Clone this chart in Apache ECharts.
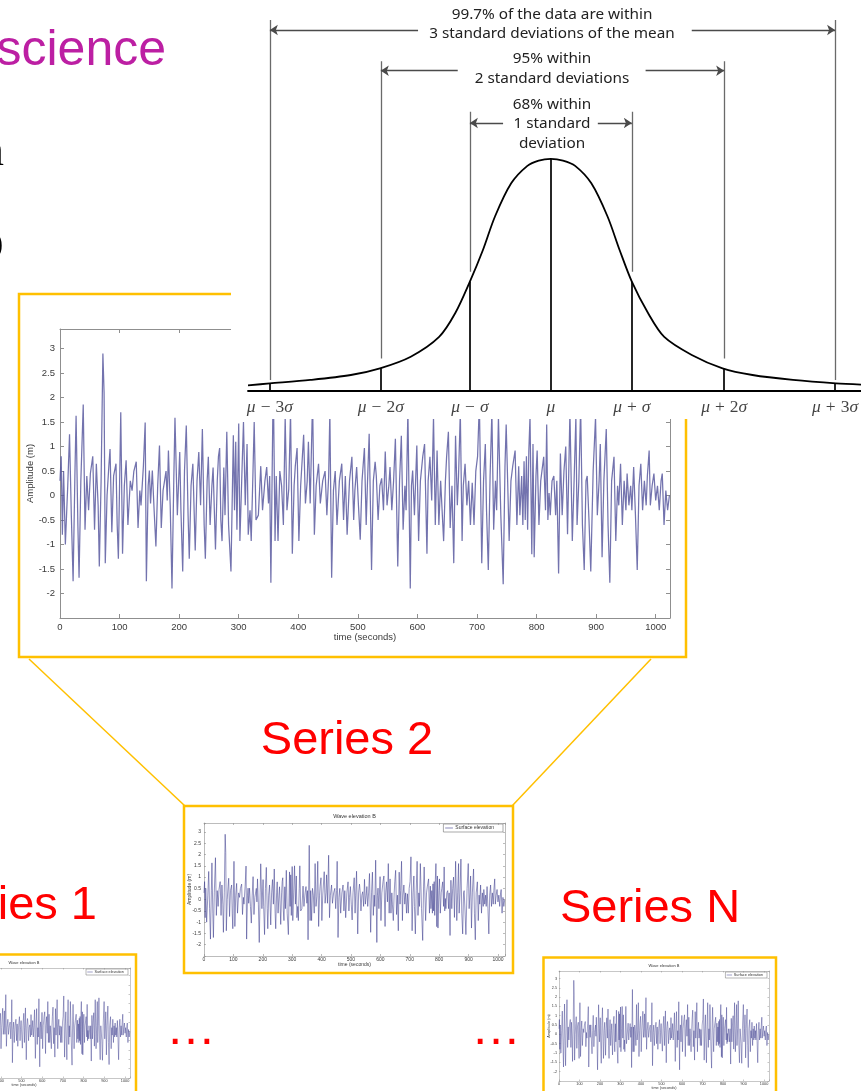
<!DOCTYPE html>
<html><head><meta charset="utf-8">
<script src="https://cdn.jsdelivr.net/npm/echarts@6/dist/echarts.min.js"></script>
<style>html,body{margin:0;padding:0;background:#fff}#c{width:861px;height:1091px}</style>
</head><body><div id="c"></div>
<script>
// ================= DATA =================
// Wave elevation time series (seconds, metres)
const waveTime = [
0,2,4,6,9,13,16,19,22,25,
27,30,32,35,39,42,45,48,51,55,
58,61,64,66,69,72,74,76,79,82,
84,87,90,94,96,98,102,105,108,111,
114,118,121,124,128,131,134,136,140,143,
145,148,150,152,155,158,161,164,167,170,
173,175,178,180,182,185,188,191,193,197,
201,203,206,209,212,215,217,220,223,227,
230,233,236,239,242,244,247,249,252,255,
257,261,264,266,268,270,272,275,277,280,
283,287,291,293,295,297,300,302,305,308,
311,314,316,319,321,324,326,329,333,337,
340,344,347,350,352,354,358,361,363,366,
369,372,375,378,381,384,387,390,393,395,
398,401,404,409,412,415,417,420,424,427,
430,434,437,441,445,448,451,453,456,459,
462,465,469,473,476,479,482,486,490,493,
495,498,501,504,507,511,514,516,519,523,
526,529,531,534,537,540,543,546,549,552,
554,557,560,563,567,570,573,576,579,581,
584,588,590,592,595,599,602,605,609,612,
616,618,621,624,627,630,633,636,639,641,
644,647,649,652,655,658,661,664,667,669,
672,675,677,680,683,686,689,692,695,698,
701,704,708,711,714,716,719,722,725,728,
731,733,736,740,744,747,749,751,754,757,
760,764,767,770,772,775,777,779,781,783,
785,787,789,792,794,796,799,801,804,807,
809,812,815,817,819,821,823,826,829,832,
834,837,840,843,846,849,852,856,860,863,
866,868,871,874,877,880,883,885,888,891,
895,899,902,905,907,910,913,917,920,923,
926,930,933,936,938,941,944,947,950,952,
955,958,960,963,966,969,972,975,978,981,
984,986,989,991,994,997,1000,1003,1006,1009,
1011,1014,1017,1020,1023];
const waveAmp = [
0.3,0.8,-0.8,0.5,-1.0,0.2,1.25,-0.4,-1.75,0.4,
1.63,-0.6,-1.68,0.3,1.86,-0.7,0.4,-0.3,0.45,0.8,
-0.7,0.65,-0.2,-1.45,0.3,2.9,2.1,-1.38,0.0,0.6,
0.95,-0.75,0.4,0.65,-0.6,-1.29,1.7,-1.19,0.2,0.72,
-0.6,0.3,0.1,0.5,0.69,-0.66,0.1,-0.2,0.6,1.49,
-1.75,0.2,0.51,-0.16,0.51,-0.3,-1.04,0.2,1.02,-0.66,
0.1,0.26,0.5,-0.1,0.92,-0.2,-1.9,0.3,1.59,-0.4,
0.89,-0.3,-1.55,0.5,1.43,-0.4,-1.29,0.2,0.65,-1.12,
0.3,0.89,-0.2,1.36,-0.6,-1.29,0.3,0.79,-0.6,0.2,
0.57,-1.1,0.3,0.8,0.97,-0.5,-0.93,0.57,-0.4,1.3,
-0.6,-1.55,1.23,-0.3,1.1,-0.7,1.47,-0.93,0.3,1.5,
-0.2,1.05,-0.8,-0.3,-0.93,0.5,1.5,-0.5,-0.4,0.6,
-0.3,0.3,0.58,-0.16,0.4,-1.78,2.41,-0.93,0.4,-0.93,
0.5,0.2,-0.6,1.6,-0.3,0.13,1.7,-1.19,0.2,0.6,
0.97,-0.93,0.2,1.24,-0.16,0.3,1.1,-0.16,1.97,-0.8,
0.2,0.65,-0.16,0.3,0.5,-0.4,0.4,1.7,-1.68,0.1,
0.5,-0.6,0.3,0.65,-0.5,0.4,-0.8,0.3,0.79,-0.5,
0.1,0.58,-0.2,-0.9,0.3,0.97,-0.6,0.2,1.26,-1.52,
0.3,0.69,0.4,-0.5,0.2,0.35,-0.3,0.9,-0.2,0.2,
0.58,-0.3,0.3,1.16,-1.45,0.3,1.22,-0.7,0.2,-0.3,
1.75,-1.9,0.2,0.51,-0.4,1.02,-0.93,0.3,0.8,1.05,
-1.19,0.3,0.79,-0.1,1.6,-0.6,0.92,-0.6,0.3,-0.2,
-0.93,0.3,0.79,1.3,-0.66,0.2,-1.38,1.22,-0.2,0.4,
1.7,-0.93,0.2,0.65,-0.2,0.3,-0.6,0.26,-0.6,0.5,
0.8,1.9,-1.38,0.3,1.05,-0.3,-1.52,0.4,1.7,-0.7,
0.3,-0.3,1.6,-0.4,-1.81,0.6,1.45,0.51,-0.93,0.3,
0.6,0.92,-0.6,0.6,-0.4,0.4,-0.6,0.7,-0.5,0.8,
-0.7,0.9,1.6,-1.2,1.05,-1.26,0.4,0.92,-0.6,0.3,
0.5,0.79,-0.3,1.45,-0.5,0.05,-0.4,0.3,0.4,-0.4,
0.3,-1.59,0.86,-0.4,0.5,1.0,-0.79,1.7,-0.93,0.3,
1.6,-0.6,0.3,1.8,-0.6,-1.52,0.3,0.4,-0.5,-1.55,
0.5,1.6,-0.4,0.3,1.05,-1.26,0.3,1.36,-0.6,-1.78,
0.3,0.79,-0.93,0.2,-0.2,0.65,-0.6,0.3,-0.3,0.45,
-0.2,0.2,-0.3,0.58,-0.4,-1.52,0.2,0.65,-0.3,0.3,
-0.2,0.4,0.92,-0.2,0.2,0.45,-0.1,0.2,-0.3,0.3,
0.45,-0.6,0.1,-0.3,0.0];
const timeRange = [0, 1024];
const timeStep = 100;
const timeTickLabels = ['0','100','200','300','400','500','600','700','800','900','1000'];
const ampRange = [-2.5, 3.4];
const ampStep = 0.5;
const ampTickLabels = ['-2','-1.5','-1','-0.5','0','0.5','1','1.5','2','2.5','3'];

// Normal distribution figure (x in units of sigma as drawn, y = density)
const normRange = [-3.74, 3.83];
const densityMax = 0.6722;
const curveX = [-3.74,-3.47,-2.97,-2.47,-2.11,-1.73,-1.38,-1.18,-1.0,-0.84,-0.69,-0.49,-0.29,-0.15,0,0.15,0.3,0.5,0.7,0.85,1.0,1.2,1.4,1.74,2.12,2.49,2.99,3.52,3.83];
const curveY = [0.0098,0.013,0.019,0.0275,0.039,0.059,0.093,0.134,0.188,0.242,0.30,0.357,0.387,0.396,0.399,0.396,0.387,0.357,0.30,0.242,0.188,0.134,0.093,0.062,0.039,0.0275,0.019,0.013,0.011];
const sigmaLabels = ['μ − 3σ','μ − 2σ','μ − σ','μ','μ + σ','μ + 2σ','μ + 3σ'];
const sigmaPos = [-3.47,-2.1,-1.0,0,1.0,2.14,3.51];
const sigmaCurveH = [0.013,0.039,0.188,0.399,0.188,0.039,0.013];
const guideBottom = [0.019,0.056,0.205,null,0.205,0.056,0.019];
const guideTop = [0.638,0.567,0.48,null,0.48,0.567,0.638];
const arrowLevel = [0.6206,0.5506,0.4607];          // 3σ, 2σ, 1σ brackets
const arrowGap = [[-1.64,1.74],[-1.15,1.17],[-0.59,0.58]];
const bracketText = [
  ['99.7% of the data are within','3 standard deviations of the mean'],
  ['95% within','2 standard deviations'],
  ['68% within','1 standard','deviation']
];
const seriesNames = ['Series 1','Series 2','Series N'];

// ================= LAYOUT =================
const gold = '#FFC000';
const grids = [], xAxes = [], yAxes = [], series = [], graphics = [];
const waveData = waveTime.map((t, i) => [t, waveAmp[i]]);

function tsChart(b, s) {
  const gi = grids.length;
  grids.push({left: b.left, top: b.top, width: b.width, height: b.height, containLabel: false, outerBoundsMode: 'none'});
  const ac = '#8f8f8f';
  const lab = {fontSize: s.fs, color: '#3a3a3a', fontFamily: 'Liberation Sans'};
  const common = {gridIndex: gi, type: 'value', splitLine: {show: false}, z: 2};
  const line = {show: true, onZero: false, lineStyle: {color: ac, width: s.lw}};
  const tick = {show: true, inside: true, length: s.tick, lineStyle: {color: ac, width: s.lw}};
  xAxes.push(Object.assign({}, common, {min: timeRange[0], max: timeRange[1], interval: timeStep, position: 'bottom',
    axisLine: line, axisTick: tick,
    axisLabel: Object.assign({}, lab, {margin: s.xm, formatter: v => timeTickLabels.includes(String(v)) ? String(v) : ''}),
    name: 'time (seconds)', nameLocation: 'middle', nameGap: s.xng, nameMoveOverlap: false, nameTextStyle: lab}));
  xAxes.push(Object.assign({}, common, {min: timeRange[0], max: timeRange[1], interval: timeStep, position: 'top',
    axisLine: line, axisTick: tick, axisLabel: {show: false}}));
  yAxes.push(Object.assign({}, common, {min: ampRange[0], max: ampRange[1], interval: ampStep, position: 'left',
    axisLine: line, axisTick: tick,
    axisLabel: Object.assign({}, lab, {margin: s.ym, formatter: v => ampTickLabels.includes(String(v)) ? String(v) : ''}),
    name: 'Amplitude (m)', nameLocation: 'middle', nameGap: s.yng, nameMoveOverlap: false, nameTextStyle: lab}));
  yAxes.push(Object.assign({}, common, {min: ampRange[0], max: ampRange[1], interval: ampStep, position: 'right',
    axisLine: line, axisTick: tick, axisLabel: {show: false}}));
  series.push({type: 'line', name: 'Surface elevation', xAxisIndex: 2 * gi, yAxisIndex: 2 * gi, z: 2,
    data: waveData, showSymbol: false, symbol: 'none', silent: true, animation: false,
    lineStyle: {color: s.col, width: s.sw, opacity: s.op}});
  graphics.push({type: 'text', z: 2, style: {text: 'Wave elevation B', x: b.left + b.width / 2, y: b.top - s.tg,
    align: 'center', verticalAlign: 'middle', fontSize: s.tfs, fontFamily: 'Liberation Sans', fill: '#333'}});
  const lw = b.width * 0.198, lx = b.left + b.width - 2 - lw, ly = b.top + 1;
  graphics.push({type: 'rect', z: 2, shape: {x: lx, y: ly, width: lw, height: s.lh},
    style: {fill: '#fff', stroke: '#6f6f6f', lineWidth: s.lw}});
  graphics.push({type: 'line', z: 2, shape: {x1: lx + lw * 0.03, y1: ly + s.lh / 2, x2: lx + lw * 0.16, y2: ly + s.lh / 2},
    style: {stroke: s.col, lineWidth: s.sw}});
  graphics.push({type: 'text', z: 2, style: {text: 'Surface elevation', x: lx + lw * 0.2, y: ly + s.lh / 2,
    align: 'left', verticalAlign: 'middle', fontSize: s.lfs, fontFamily: 'Liberation Sans', fill: '#333'}});
}

const bigStyle = {fs: 9.5, lw: 1, tick: 4, xm: 4, xng: 14, ym: 5, yng: 25, col: '#5a5aa0', sw: 1.25, op: 0.85, tfs: 10, tg: 9, lh: 14, lfs: 9};
const midStyle = {fs: 5, lw: 0.6, tick: 2, xm: 1, xng: 6.5, ym: 3, yng: 12, col: '#3c3c8e', sw: 0.6, op: 0.9, tfs: 5.5, tg: 7, lh: 8, lfs: 5};
const smallStyle = {fs: 3.8, lw: 0.5, tick: 1.5, xm: 0.8, xng: 5, ym: 2, yng: 8, col: '#3c3c8e', sw: 0.5, op: 0.9, tfs: 4, tg: 5, lh: 6, lfs: 3.8};

tsChart({left: 60, top: 329, width: 610, height: 289}, bigStyle);     // zoomed Series 2
tsChart({left: 204, top: 823, width: 301, height: 133}, midStyle);    // Series 2
tsChart({left: -82, top: 968, width: 212, height: 110}, smallStyle);  // Series 1
tsChart({left: 559, top: 971, width: 210, height: 110}, smallStyle);  // Series N

// ---- normal distribution figure (drawn above the zoomed chart) ----
const NG = grids.length;
grids.push({left: 248, top: 0, right: 0, height: 391, outerBoundsMode: 'none'});
xAxes.push({gridIndex: NG, type: 'value', min: normRange[0], max: normRange[1], z: 10,
  axisLine: {show: true, onZero: false, lineStyle: {color: '#000', width: 1.8}},
  axisTick: {show: false}, axisLabel: {show: false}, splitLine: {show: false}});
yAxes.push({gridIndex: NG, type: 'value', min: 0, max: densityMax, show: false, z: 10, splitLine: {show: false}});
const normX = xAxes.length - 1, normY = yAxes.length - 1;
const normBase = {xAxisIndex: normX, yAxisIndex: normY, silent: true, animation: false};

series.push(Object.assign({type: 'line', z: 10, smooth: 0.3,
  data: curveX.map((x, i) => [x, curveY[i]]), showSymbol: false, symbol: 'none',
  lineStyle: {color: '#000', width: 1.8}}, normBase));
series.push(Object.assign({type: 'lines', coordinateSystem: 'cartesian2d', z: 11, symbol: ['none', 'none'],
  lineStyle: {color: '#000', width: 1.7, opacity: 1, curveness: 0},
  data: sigmaPos.map((p, i) => ({coords: [[p, 0], [p, sigmaCurveH[i]]]}))}, normBase));
const guides = [];
sigmaPos.forEach((p, i) => { if (guideTop[i] !== null) guides.push({coords: [[p, guideBottom[i]], [p, guideTop[i]]]}); });
series.push(Object.assign({type: 'lines', coordinateSystem: 'cartesian2d', z: 11, symbol: ['none', 'none'],
  lineStyle: {color: '#6a6a6a', width: 1.3, opacity: 1, curveness: 0}, data: guides}, normBase));
const arrows = [];
arrowLevel.forEach((lv, k) => {
  arrows.push({coords: [[arrowGap[k][0], lv], [sigmaPos[k], lv]]});
  arrows.push({coords: [[arrowGap[k][1], lv], [sigmaPos[6 - k], lv]]});
});
series.push(Object.assign({type: 'lines', coordinateSystem: 'cartesian2d', z: 11, symbol: ['none', 'arrow'], symbolSize: 8,
  lineStyle: {color: '#4a4a4a', width: 1.3, opacity: 1, curveness: 0}, data: arrows}, normBase));
const fmtSigma = s => s.replace(/([μσ])/g, '{i|$1}').replace(/ ([−+]) /g, '{o|$1}');
series.push(Object.assign({type: 'scatter', z: 12, symbolSize: 0, data: sigmaPos.map(p => [p, 0]),
  label: {show: true, position: 'bottom', distance: 7, color: '#111', fontFamily: 'Liberation Serif', fontSize: 17.5,
    formatter: p => fmtSigma(sigmaLabels[p.dataIndex]),
    rich: {i: {fontStyle: 'italic', fontFamily: 'Liberation Serif', fontSize: 17.5, color: '#111'},
           o: {fontFamily: 'Liberation Serif', fontSize: 17.5, color: '#111', padding: [0, 5]}}}}, normBase));

graphics.push({type: 'rect', z: 5, shape: {x: 231, y: 0, width: 630, height: 419}, style: {fill: '#fff'}});
const txtY = [[15, 34], [59, 79], [105, 124, 144]];
bracketText.forEach((lines, k) => lines.forEach((t, j) => {
  graphics.push({type: 'text', z: 20, style: {text: t, x: 552, y: txtY[k][j], align: 'center', verticalAlign: 'middle',
    fontSize: 15.3, fontFamily: 'Noto Sans', fill: '#222'}});
}));

graphics.push({type: 'rect', z: 3, shape: {x: 19, y: 294, width: 667, height: 363}, style: {fill: null, stroke: gold, lineWidth: 2.5}});
graphics.push({type: 'rect', z: 3, shape: {x: 184, y: 806, width: 329, height: 167}, style: {fill: null, stroke: gold, lineWidth: 2.5}});
graphics.push({type: 'rect', z: 3, shape: {x: -100, y: 954.5, width: 236, height: 200}, style: {fill: null, stroke: gold, lineWidth: 2.5}});
graphics.push({type: 'rect', z: 3, shape: {x: 543.5, y: 957.5, width: 232.5, height: 200}, style: {fill: null, stroke: gold, lineWidth: 2.5}});
graphics.push({type: 'line', z: 3, shape: {x1: 29, y1: 659, x2: 185, y2: 806}, style: {stroke: gold, lineWidth: 1.5}});
graphics.push({type: 'line', z: 3, shape: {x1: 651, y1: 659, x2: 512, y2: 806}, style: {stroke: gold, lineWidth: 1.5}});

const redFont = '47px "Liberation Sans"';
graphics.push({type: 'text', z: 20, style: {text: seriesNames[1], x: 347, y: 741, align: 'center', verticalAlign: 'middle', font: redFont, fill: '#FF0000'}});
graphics.push({type: 'text', z: 20, style: {text: seriesNames[2], x: 650, y: 909, align: 'center', verticalAlign: 'middle', font: redFont, fill: '#FF0000'}});
graphics.push({type: 'text', z: 20, style: {text: seriesNames[0], x: 97, y: 906, align: 'right', verticalAlign: 'middle', font: redFont, fill: '#FF0000'}});
graphics.push({type: 'text', z: 20, style: {text: '…', x: 191, y: 1030, align: 'center', verticalAlign: 'middle', font: '50px "Liberation Sans"', fill: '#FF0000'}});
graphics.push({type: 'text', z: 20, style: {text: '…', x: 496, y: 1030, align: 'center', verticalAlign: 'middle', font: '50px "Liberation Sans"', fill: '#FF0000'}});
graphics.push({type: 'text', z: 20, style: {text: 'science', x: 166, y: 51, align: 'right', verticalAlign: 'middle', font: '50px "Liberation Sans"', fill: '#BC1FA3'}});
graphics.push({type: 'text', z: 20, style: {text: 'n', x: 4, y: 153, align: 'right', verticalAlign: 'middle', font: '46px "Liberation Serif"', fill: '#000'}});
graphics.push({type: 'text', z: 20, style: {text: 'o', x: 4, y: 243, align: 'right', verticalAlign: 'middle', font: '60px "Liberation Serif"', fill: '#000'}});

const chart = echarts.init(document.getElementById('c'), null, {renderer: 'canvas', width: 861, height: 1091});
chart.setOption({
  backgroundColor: '#ffffff',
  animation: false,
  grid: grids, xAxis: xAxes, yAxis: yAxes, series: series,
  graphic: {elements: graphics}
});
</script></body></html>
